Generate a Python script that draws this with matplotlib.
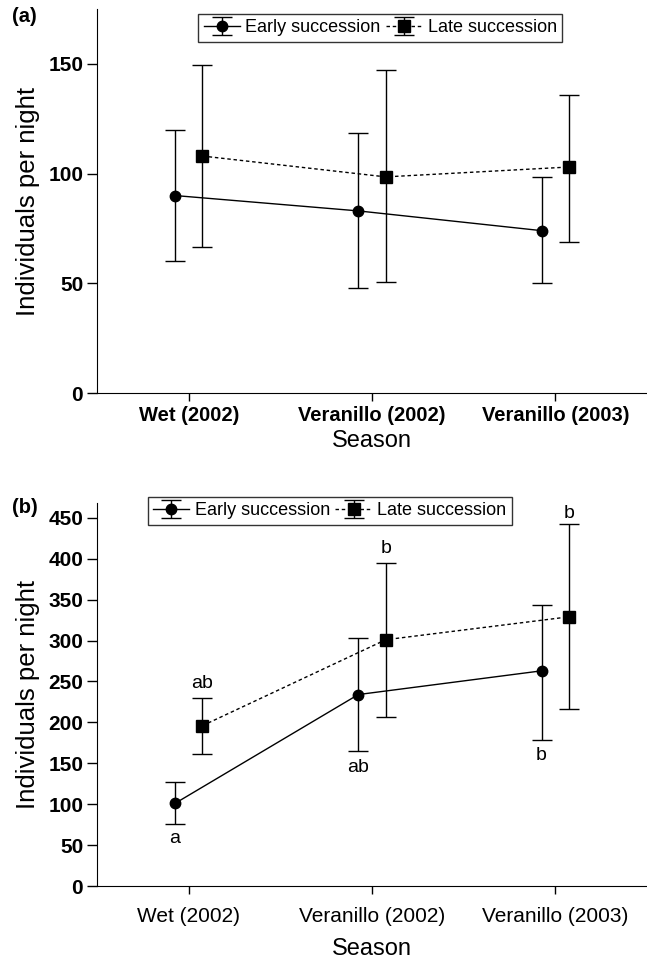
import numpy as np
import matplotlib.pyplot as plt

plt.rcParams["font.family"] = ["Liberation Sans", "DejaVu Sans"]

seasons = ["Wet (2002)", "Veranillo (2002)", "Veranillo (2003)"]

# panel (a): mean and error bar ends
early_a = [90, 83, 74]
early_a_lo = [60, 48, 50]
early_a_hi = [120, 118.5, 98.5]
late_a = [108, 98.5, 103]
late_a_lo = [66.5, 50.5, 69]
late_a_hi = [149.5, 147, 136]

# panel (b)
early_b = [101, 234, 263]
early_b_lo = [76, 165, 179]
early_b_hi = [127, 303, 344]
late_b = [196, 301, 329]
late_b_lo = [161, 206, 216]
late_b_hi = [230, 395, 442]

# significance letters (text, y position)
early_letters = ["a", "ab", "b"]
early_letter_y = [58, 145, 160]
late_letters = ["ab", "b", "b"]
late_letter_y = [247, 413, 455]

x = np.arange(1, 4)
dx = 0.075

fig = plt.figure(figsize=(6.47, 9.6), dpi=100)
ax_a = fig.add_axes([0.150, 0.5906, 0.85, 0.400])
ax_b = fig.add_axes([0.150, 0.077, 0.85, 0.399])


def panel(ax, early, elo, ehi, late, llo, lhi, ylim, yticks, bold_x,
          xpad, lpad, leg_anchor):
    e = np.array(early)
    l = np.array(late)
    h1 = ax.errorbar(x - dx, e, yerr=[e - np.array(elo), np.array(ehi) - e],
                     fmt="-o", color="black", ms=7.5, lw=1, elinewidth=1,
                     capsize=7, capthick=1, label="Early succession")
    h2 = ax.errorbar(x + dx, l, yerr=[l - np.array(llo), np.array(lhi) - l],
                     fmt="s", ls=(0, (2.5, 2)), color="black", ms=8, lw=1,
                     elinewidth=1, capsize=7, capthick=1,
                     label="Late succession")
    ax.set_xlim(0.5, 3.5)
    ax.set_ylim(*ylim)
    ax.set_yticks(yticks)
    ax.set_xticks(x)
    ax.set_xticklabels(seasons, fontweight="bold" if bold_x else "normal",
                       fontsize=14.5 if bold_x else 15)
    for s in ("top", "right"):
        ax.spines[s].set_visible(False)
    ax.tick_params(axis="y", direction="out", length=7, width=1,
                   labelsize=15, pad=3)
    ax.tick_params(axis="x", direction="out", length=6, width=1, pad=xpad)
    for t in ax.get_yticklabels():
        t.set_fontweight("bold")
    ax.set_ylabel("Individuals per night", fontsize=18.5, labelpad=6)
    ax.set_xlabel("Season", fontsize=17, labelpad=lpad)
    leg = ax.legend(handles=[h1, h2], ncol=2, loc="upper center",
                    bbox_to_anchor=leg_anchor, fontsize=13, frameon=True,
                    fancybox=False, edgecolor="black", handlelength=2.0,
                    handletextpad=0.3, columnspacing=0.3, borderpad=0.3,
                    borderaxespad=0)
    leg.get_frame().set_linewidth(1)
    return leg


panel(ax_a, early_a, early_a_lo, early_a_hi, late_a, late_a_lo, late_a_hi,
      (0, 175), [0, 50, 100, 150], True, 3, 4, (0.515, 0.987))
panel(ax_b, early_b, early_b_lo, early_b_hi, late_b, late_b_lo, late_b_hi,
      (0, 468), np.arange(0, 451, 50), False, 9, 9, (0.423, 1.016))

for i in range(3):
    ax_b.text(x[i] - dx, early_letter_y[i], early_letters[i], ha="center",
              va="center", fontsize=14)
    ax_b.text(x[i] + dx, late_letter_y[i], late_letters[i], ha="center",
              va="center", fontsize=14)

fig.text(0.018, 0.983, "(a)", fontsize=14.5, fontweight="bold", va="center")
fig.text(0.018, 0.471, "(b)", fontsize=14.5, fontweight="bold", va="center")

fig.savefig("out.png", dpi=100)
